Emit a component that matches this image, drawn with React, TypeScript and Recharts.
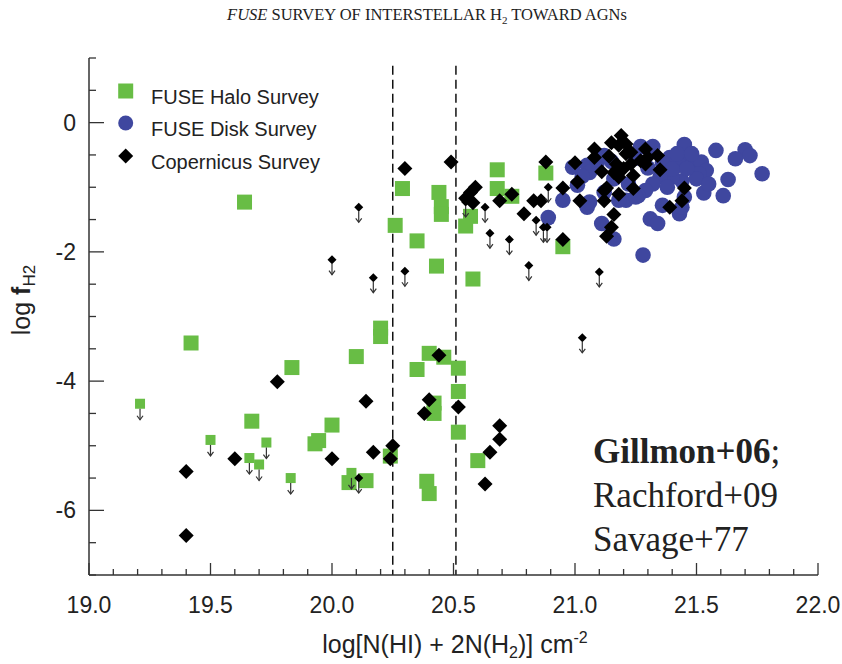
import React from 'react';
import { ScatterChart, Scatter, XAxis, YAxis, ReferenceLine } from 'recharts';

// [log N(H), log f_H2]
const haloDetections: [number, number][] = [
  [19.64, -1.23], [19.42, -3.41], [19.835, -3.79], [20.1, -3.62], [20.2, -3.18], [20.2, -3.31],
  [19.67, -4.62], [20.0, -4.68], [19.945, -4.92], [19.93, -4.97], [20.07, -5.57], [20.14, -5.54],
  [20.24, -5.16], [20.4, -3.57], [20.46, -3.63], [20.35, -3.82], [20.52, -3.8], [20.52, -4.16],
  [20.42, -4.34], [20.42, -4.5], [20.52, -4.79], [20.6, -5.23], [20.39, -5.55], [20.4, -5.74],
  [20.29, -1.02], [20.44, -1.08], [20.45, -1.3], [20.45, -1.42], [20.26, -1.59], [20.35, -1.83],
  [20.43, -2.22], [20.68, -0.73], [20.68, -1.02], [20.74, -1.14], [20.57, -1.45], [20.55, -1.6],
  [20.58, -2.42], [20.88, -0.78], [20.95, -1.92],
];

const haloLimits: [number, number][] = [
  [19.21, -4.35], [19.5, -4.91], [19.73, -4.95], [19.66, -5.19], [19.7, -5.29], [19.83, -5.5], [20.08, -5.42],
];

const diskDetections: [number, number][] = [
  [20.99, -0.69], [21.05, -0.66], [21.01, -0.97], [20.95, -1.2], [20.89, -1.47], [21.05, -1.31],
  [21.27, -0.37], [21.32, -0.37], [21.45, -0.34], [21.58, -0.43], [21.7, -0.42], [21.72, -0.51],
  [21.66, -0.56], [21.77, -0.79], [21.63, -0.88], [21.61, -1.13], [21.53, -1.09], [21.46, -0.54],
  [21.49, -0.59], [21.52, -0.61], [21.54, -0.74], [21.51, -0.79], [21.5, -0.87], [21.44, -0.9],
  [21.4, -0.84], [21.43, -0.66], [21.39, -0.54], [21.46, -0.71], [21.35, -0.84], [21.32, -0.95],
  [21.29, -1.05], [21.26, -1.13], [21.21, -1.2], [21.06, -1.23], [21.09, -0.64], [21.12, -0.51],
  [21.06, -0.77], [21.12, -1.08], [21.11, -1.56], [21.16, -1.8], [21.31, -1.49], [21.34, -1.56],
  [21.43, -1.41], [21.44, -1.31], [21.45, -1.15], [21.36, -1.28], [21.28, -2.05], [21.25, -1.15],
  [21.42, -0.48], [21.48, -0.48], [21.16, -0.87], [21.18, -1.2], [21.3, -0.7], [21.36, -0.62],
  [21.25, -0.55], [21.4, -0.72], [21.55, -0.95], [21.38, -1.0], [21.22, -0.95], [21.15, -0.6],
  [21.03, -0.83],
];

const copernicusDetections: [number, number][] = [
  [19.775, -4.01], [19.6, -5.2], [19.4, -5.4], [19.4, -6.39], [20.0, -5.2], [20.17, -5.1],
  [20.14, -4.31], [20.25, -5.0], [20.24, -5.2], [20.44, -3.6], [20.4, -4.29], [20.38, -4.5],
  [20.52, -4.4], [20.69, -4.69], [20.69, -4.9], [20.65, -5.1], [20.63, -5.59],
  [20.3, -0.71], [20.49, -0.61], [20.59, -1.0], [20.57, -1.08], [20.55, -1.17], [20.58, -1.24],
  [20.69, -1.21], [20.74, -1.11], [20.79, -1.41], [20.83, -1.21], [20.86, -1.21], [20.88, -0.61],
  [20.95, -1.01], [20.95, -1.81], [21.0, -0.62], [21.01, -0.92], [21.02, -1.21], [21.08, -0.41],
  [21.08, -0.54], [21.15, -0.31], [21.19, -0.2], [21.14, -0.52], [21.11, -0.76], [21.18, -0.35],
  [21.21, -0.33], [21.21, -0.48], [21.17, -0.64], [21.2, -0.71], [21.16, -0.77], [21.18, -0.84],
  [21.23, -0.64], [21.23, -0.46], [21.27, -0.59], [21.29, -0.41], [21.3, -0.54], [21.29, -0.64],
  [21.34, -0.51], [21.35, -0.73], [21.24, -0.82], [21.13, -1.01], [21.12, -1.05], [21.18, -1.11],
  [21.24, -1.02], [21.12, -1.21], [21.16, -1.42], [21.15, -1.62], [21.13, -1.76], [21.45, -1.01],
  [21.44, -1.21], [21.39, -1.31],
];

const copernicusLimits: [number, number][] = [
  [20.11, -1.31], [20.63, -1.31], [20.65, -1.71], [20.73, -1.81], [20.81, -2.21], [20.89, -1.0],
  [20.84, -1.51], [20.87, -1.62], [20.885, -1.62], [20.17, -2.4], [20.3, -2.3], [20.55, -1.23],
  [21.1, -2.31], [21.03, -3.33], [20.0, -2.12], [20.11, -5.5],
];

// transition region boundaries
const transitionLines = [20.25, 20.51];

const xTicks = Array.from({ length: 31 }, (_, i) => Math.round((19 + i * 0.1) * 10) / 10);
const yTicks = Array.from({ length: 17 }, (_, i) => -7 + i * 0.5);

const legendItems = ['FUSE Halo Survey', 'FUSE Disk Survey', 'Copernicus Survey'];
const refLines = ['Gillmon+06', 'Rachford+09', 'Savage+77'];

const GREEN = '#68bd45';
const BLUE = '#3f479f';
const AXIS = '#333';
const INK = '#222';
const SANS = '"Liberation Sans", Arial, Helvetica, sans-serif';
const SERIF = '"Liberation Serif", "Times New Roman", serif';

const pts = (a: [number, number][]) => a.map(([x, y]) => ({ x, y }));

const isMajorX = (v: number) => Math.abs(v * 2 - Math.round(v * 2)) < 1e-6;
const isMajorY = (v: number) => Math.abs(v / 2 - Math.round(v / 2)) < 1e-6;

const BottomTick = (p: any) => {
  const v = p.payload.value;
  const major = isMajorX(v);
  return (
    <g>
      <line x1={p.x} x2={p.x} y1={p.y} y2={p.y - (major ? 12 : 6)} stroke={AXIS} strokeWidth={1.3} />
      {major && (
        <text x={p.x} y={p.y + 38} textAnchor="middle" fontSize={23} fontFamily={SANS} fill={INK}>
          {v.toFixed(1)}
        </text>
      )}
    </g>
  );
};

const TopTick = (p: any) => {
  const major = isMajorX(p.payload.value);
  return <line x1={p.x} x2={p.x} y1={p.y} y2={p.y + (major ? 12 : 6)} stroke={AXIS} strokeWidth={1.3} />;
};

const LeftTick = (p: any) => {
  const v = p.payload.value;
  const major = isMajorY(v);
  return (
    <g>
      <line x1={p.x} x2={p.x + (major ? 15 : 7)} y1={p.y} y2={p.y} stroke={AXIS} strokeWidth={1.3} />
      {major && v >= -6 && v <= 0 && (
        <text x={p.x - 13} y={p.y + 8} textAnchor="end" fontSize={23} fontFamily={SANS} fill={INK}>
          {v === 0 ? '0' : String(v)}
        </text>
      )}
    </g>
  );
};

const RightTick = (p: any) => {
  const major = isMajorY(p.payload.value);
  return <line x1={p.x} x2={p.x - (major ? 15 : 7)} y1={p.y} y2={p.y} stroke={AXIS} strokeWidth={1.3} />;
};

const Arrow = ({ cx, top }: { cx: number; top: number }) => (
  <g stroke="#333" strokeWidth={1.2} fill="none">
    <line x1={cx} x2={cx} y1={top} y2={top + 11} />
    <polyline points={`${cx - 3},${top + 7} ${cx},${top + 11} ${cx + 3},${top + 7}`} />
  </g>
);

const Square = ({ cx, cy, s }: { cx: number; cy: number; s: number }) => (
  <rect x={cx - s / 2} y={cy - s / 2} width={s} height={s} fill={GREEN} />
);

const Diamond = ({ cx, cy, r }: { cx: number; cy: number; r: number }) => (
  <polygon points={`${cx},${cy - r} ${cx + r},${cy} ${cx},${cy + r} ${cx - r},${cy}`} fill="#000" />
);

const App: React.FC = () => {
  return (
    <div style={{ position: 'absolute', left: 0, top: 0, width: 842, height: 664, background: '#fff' }}>
      <ScatterChart width={842} height={664} margin={{ top: 58, right: 24, bottom: 0, left: 0 }}>
        <XAxis
          type="number"
          dataKey="x"
          domain={[19, 22]}
          ticks={xTicks}
          interval={0}
          height={89}
          tickSize={0}
          tickMargin={0}
          tickLine={false}
          axisLine={{ stroke: AXIS, strokeWidth: 1.5 }}
          tick={BottomTick}
        />
        <XAxis
          xAxisId="top"
          orientation="top"
          type="number"
          domain={[19, 22]}
          ticks={xTicks}
          interval={0}
          height={0}
          tickSize={0}
          tickMargin={0}
          tickLine={false}
          axisLine={{ stroke: AXIS, strokeWidth: 1.5 }}
          tick={TopTick}
        />
        <YAxis
          type="number"
          dataKey="y"
          domain={[-7, 1]}
          ticks={yTicks}
          interval={0}
          width={89}
          tickSize={0}
          tickMargin={0}
          tickLine={false}
          axisLine={{ stroke: AXIS, strokeWidth: 1.5 }}
          tick={LeftTick}
        />
        <YAxis
          yAxisId="right"
          orientation="right"
          type="number"
          domain={[-7, 1]}
          ticks={yTicks}
          interval={0}
          width={0}
          tickSize={0}
          tickMargin={0}
          tickLine={false}
          axisLine={{ stroke: AXIS, strokeWidth: 1.5 }}
          tick={RightTick}
        />
        {transitionLines.map((v) => (
          <ReferenceLine
            key={v}
            segment={[{ x: v, y: 0.88 }, { x: v, y: -7 }]}
            stroke="#111"
            strokeWidth={1.5}
            strokeDasharray="9 5"
          />
        ))}
        <Scatter
          data={pts(haloDetections)}
          isAnimationActive={false}
          shape={(p: any) => <Square cx={p.cx} cy={p.cy} s={15} />}
        />
        <Scatter
          data={pts(haloLimits)}
          isAnimationActive={false}
          shape={(p: any) => (
            <g>
              <Square cx={p.cx} cy={p.cy} s={10} />
              <Arrow cx={p.cx} top={p.cy + 5} />
            </g>
          )}
        />
        <Scatter
          data={pts(diskDetections)}
          isAnimationActive={false}
          shape={(p: any) => <circle cx={p.cx} cy={p.cy} r={7.8} fill={BLUE} />}
        />
        <Scatter
          data={pts(copernicusDetections)}
          isAnimationActive={false}
          shape={(p: any) => <Diamond cx={p.cx} cy={p.cy} r={7.5} />}
        />
        <Scatter
          data={pts(copernicusLimits)}
          isAnimationActive={false}
          shape={(p: any) => (
            <g>
              <Diamond cx={p.cx} cy={p.cy} r={4.5} />
              <Arrow cx={p.cx} top={p.cy + 4} />
            </g>
          )}
        />
      </ScatterChart>

      <svg width={842} height={664} style={{ position: 'absolute', left: 0, top: 0, pointerEvents: 'none' }}>
        {/* page header */}
        <text x={427} y={20} textAnchor="middle" fontFamily={SERIF} fontSize={16.5} fill={INK}>
          <tspan fontStyle="italic">FUSE</tspan>
          <tspan> SURVEY OF INTERSTELLAR H</tspan>
          <tspan fontSize={11} dy={4}>2</tspan>
          <tspan dy={-4}> TOWARD AGNs</tspan>
        </text>

        {/* legend */}
        <rect x={118.2} y={83.5} width={15} height={15} fill={GREEN} />
        <circle cx={125.7} cy={123} r={7.5} fill={BLUE} />
        <Diamond cx={125.7} cy={156} r={7.5} />
        {legendItems.map((t, i) => (
          <text key={t} x={151} y={104 + i * 32.3} fontFamily={SANS} fontSize={20} fill={INK}>
            {t}
          </text>
        ))}

        {/* references */}
        <text x={593} y={463} fontFamily={SERIF} fontSize={35} fill={INK}>
          <tspan fontWeight="bold">{refLines[0]}</tspan>
          <tspan>;</tspan>
        </text>
        <text x={593} y={507} fontFamily={SERIF} fontSize={35} fill={INK}>{refLines[1]}</text>
        <text x={593} y={551} fontFamily={SERIF} fontSize={35} fill={INK}>{refLines[2]}</text>

        {/* axis titles */}
        <text x={455} y={653} textAnchor="middle" fontFamily={SANS} fontSize={25} fill={INK}>
          <tspan>log[N(HI) + 2N(H</tspan>
          <tspan fontSize={16} dy={5}>2</tspan>
          <tspan dy={-5}>)] cm</tspan>
          <tspan fontSize={16} dy={-10}>-2</tspan>
        </text>
        <text transform="translate(30, 300) rotate(-90)" textAnchor="middle" fontFamily={SANS} fontSize={25} fill={INK}>
          <tspan>log </tspan>
          <tspan fontWeight="bold">f</tspan>
          <tspan fontSize={17} dy={5}>H2</tspan>
        </text>
      </svg>
    </div>
  );
};

export default App;
